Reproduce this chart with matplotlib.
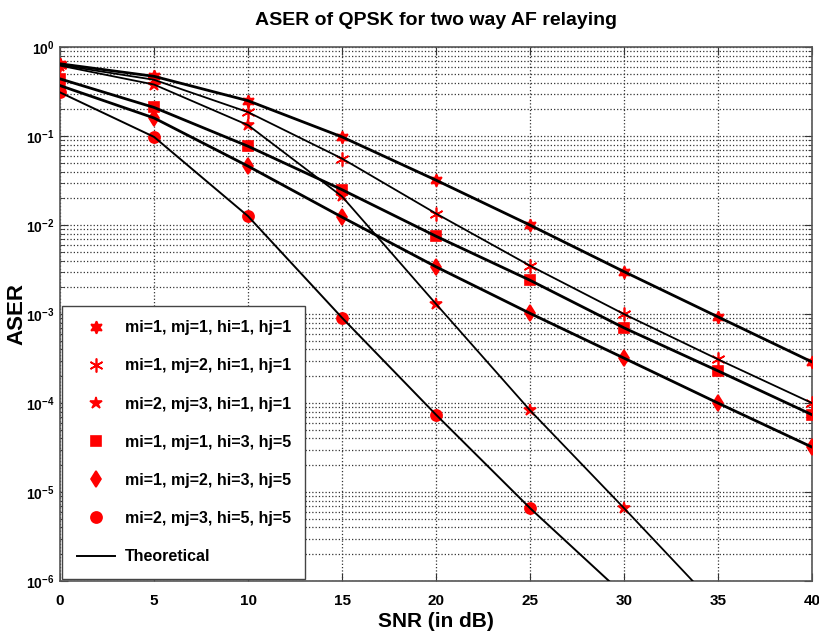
"""
ASER of QPSK for two way AF relaying - simulation markers and theoretical curves.
"""

import numpy as np
import matplotlib
matplotlib.use('Agg')
import matplotlib.pyplot as plt
from matplotlib.ticker import FixedLocator, NullFormatter

# SNR points (dB)
snr = [0, 5, 10, 15, 20, 25, 30, 35, 40]

# ASER values (values below 1e-6 fall outside the axes)
aser_11_11 = [0.65, 0.47, 0.25, 0.098, 0.032, 0.0100, 0.0030, 0.00093, 0.00029]
aser_12_11 = [0.63, 0.43, 0.186, 0.056, 0.0135, 0.0035, 0.0010, 0.00031, 0.000100]
aser_23_11 = [0.62, 0.38, 0.133, 0.021, 0.0013, 8.3e-5, 6.6e-6, 5e-7, 4e-8]
aser_11_35 = [0.44, 0.21, 0.077, 0.025, 0.0075, 0.0024, 0.00070, 0.00023, 7.4e-5]
aser_12_35 = [0.37, 0.16, 0.046, 0.0123, 0.0034, 0.00102, 0.00032, 0.000100, 3.2e-5]
aser_23_55 = [0.31, 0.098, 0.0126, 0.00091, 7.4e-5, 6.6e-6, 7e-7, 5e-8, 4e-9]

labels = ['mi=1, mj=1, hi=1, hj=1',
          'mi=1, mj=2, hi=1, hj=1',
          'mi=2, mj=3, hi=1, hj=1',
          'mi=1, mj=1, hi=3, hj=5',
          'mi=1, mj=2, hi=3, hj=5',
          'mi=2, mj=3, hi=5, hj=5']

series = [aser_11_11, aser_12_11, aser_23_11, aser_11_35, aser_12_35, aser_23_55]
markers = [(6, 1, 0), (6, 2, 0), '*', 's', 'd', 'o']
msizes = [9, 10, 9, 7, 8, 8]
line_widths = [2.0, 1.3, 1.3, 2.0, 2.0, 1.4]

decades = [1e-6, 1e-5, 1e-4, 1e-3, 1e-2, 1e-1, 1e0]

plt.rcParams['font.family'] = ['Liberation Sans', 'DejaVu Sans']
plt.rcParams['font.weight'] = 'bold'
plt.rcParams['mathtext.fontset'] = 'custom'
plt.rcParams['mathtext.rm'] = 'Liberation Sans:bold'
plt.rcParams['mathtext.bf'] = 'Liberation Sans:bold'
plt.rcParams['mathtext.default'] = 'bf'

fig = plt.figure(figsize=(8.2, 6.44), dpi=100)
ax = fig.add_axes([0.0732, 0.0978, 0.917, 0.829])

handles = []
for vals, mk, ms, lab in zip(series, markers, msizes, labels):
    h, = ax.plot(snr, vals, linestyle='none', marker=mk, markersize=ms,
                 color='red', markeredgecolor='red', markeredgewidth=1.2,
                 label=lab, zorder=3)
    handles.append(h)

for vals, lw in zip(series, line_widths):
    th, = ax.plot(snr, vals, color='black', linewidth=lw, zorder=4)
th.set_label('Theoretical')
handles.append(th)

ax.set_yscale('log')
ax.set_xlim(0, 40)
ax.set_ylim(1e-6, 1)
ax.xaxis.set_major_locator(FixedLocator(snr))
ax.yaxis.set_major_locator(FixedLocator(decades))
minor = [d * k for d in decades[:-1] for k in range(2, 10)]
ax.yaxis.set_minor_locator(FixedLocator(minor))
ax.yaxis.set_minor_formatter(NullFormatter())

ax.grid(True, which='major', linestyle=':', color='#333333', linewidth=0.9)
ax.grid(True, which='minor', axis='y', linestyle=':', color='#333333', linewidth=0.9)
ax.tick_params(which='both', direction='in', top=True, right=True,
               labelsize=11, colors='#333333', labelcolor='black')
ax.tick_params(which='major', length=6)
ax.tick_params(which='minor', length=3)
ax.tick_params(axis='x', pad=9)
ax.tick_params(axis='y', pad=4, labelsize=10)
for sp in ax.spines.values():
    sp.set_color('#555555')
    sp.set_linewidth(1.2)

ax.set_title('ASER of QPSK for two way AF relaying', fontsize=14,
             fontweight='bold', pad=16)
ax.set_xlabel('SNR (in dB)', fontsize=15, fontweight='bold', labelpad=3)
ax.set_ylabel('ASER', fontsize=16, fontweight='bold')
ax.yaxis.set_label_coords(-0.044, 0.5)

leg = ax.legend(handles=handles, loc='lower left', fontsize=11.5,
                borderaxespad=0.15, fancybox=False, framealpha=1,
                edgecolor='#444444', labelspacing=1.45, handlelength=2.4,
                handletextpad=0.6, borderpad=0.9)
leg.get_frame().set_linewidth(1.0)

fig.savefig('out.png', dpi=100)
